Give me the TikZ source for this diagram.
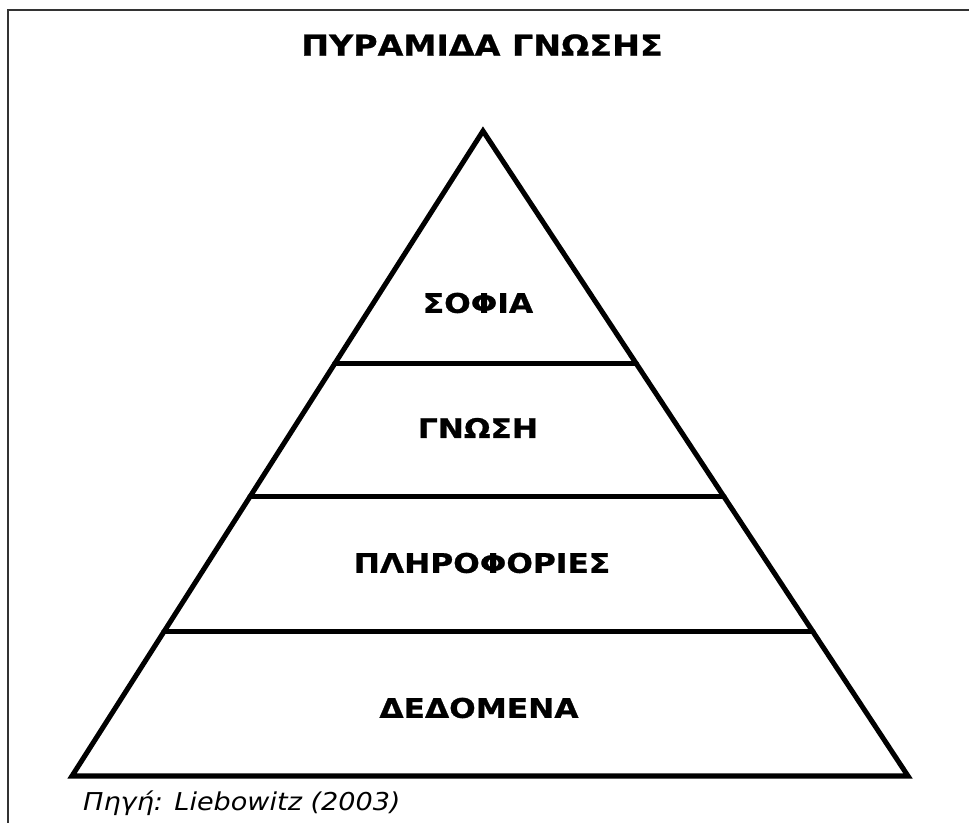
\documentclass[tikz,border=0pt]{standalone}
\usepackage{fontspec}
\setmainfont{DejaVu Sans}[FakeStretch=1.1, BoldFeatures={FakeStretch=1.16, FakeBold=0.8}]
\usepackage{tikz}
\usetikzlibrary{calc, positioning}

\tikzset{
  tier/.style={font=\fontsize{23}{26}\selectfont\bfseries, inner sep=0pt},
  edge/.style={line width=4.3pt, line cap=round, line join=miter},
}

\begin{document}
\begin{tikzpicture}[x=0.03cm, y=-0.03cm]
            \useasboundingbox (0,0) rectangle (969,823);
            \draw[line width=1.8pt, black!80] (969,10) --(8,10) --(8,823); %πλαίσιο
            \node[tier, font=\fontsize{24.5}{28}\selectfont\bfseries] (title) at (482,45) {ΠΥΡΑΜΙΔΑ ΓΝΩΣΗΣ}; %τίτλος
            \coordinate (apex) at (483,131);
            \coordinate (baseL) at (72,776);
            \coordinate (baseR) at (908,776);
            \draw[edge] (baseL) --(apex) --(baseR) --cycle; %τρίγωνο
            \foreach \t/\nm in {0.3612/one, 0.5674/two, 0.7767/three}
              \draw[edge] ($(apex)!\t!(baseL)$) coordinate (\nm-left) --($(apex)!\t!(baseR)$) coordinate (\nm-right);
            \node[tier] (sofia) at (478,303) {ΣΟΦΙΑ};
            \node[tier] (gnosi) at (478,428) {ΓΝΩΣΗ};
            \node[tier] (plir) at (482,563) {ΠΛΗΡΟΦΟΡΙΕΣ};
            \node[tier] (dedom) at (479,708) {ΔΕΔΟΜΕΝΑ};
            \node[anchor=west, inner sep=0pt, font=\fontsize{21}{24}\selectfont\itshape] (pigi) at (83,803) {Πηγή: Liebowitz (2003)}; %πηγή
        \end{tikzpicture}
\end{document}
